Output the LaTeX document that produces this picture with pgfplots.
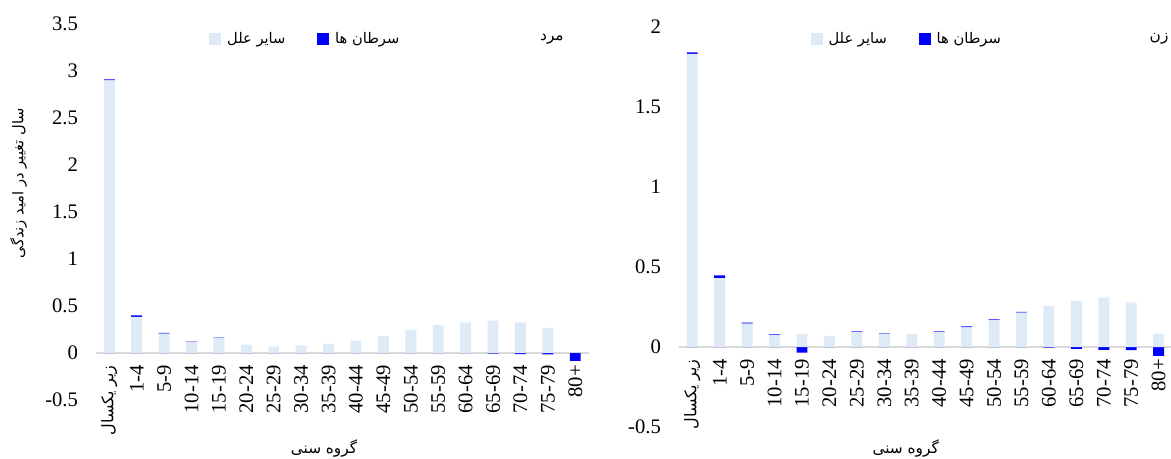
\documentclass[border=0pt]{standalone}
\usepackage{pgfplots}
\pgfplotsset{compat=1.18}
\usepackage{pgfplotstable}
\usepackage{fontspec}
\setmainfont{Liberation Serif}
\newfontfamily\fa[Script=Arabic]{DejaVu Sans}
\TeXXeTstate=1

\definecolor{otherc}{RGB}{222,235,247}
\definecolor{cancerc}{RGB}{0,0,255}
\definecolor{zeroline}{RGB}{217,217,217}

% change in life expectancy (years) by age group: other causes, cancers (+/-)
\pgfplotstableread{
idx other cpos cneg
0  2.900 0.012  0
1  0.385 0.015  0
2  0.205 0.010  0
3  0.115 0.006  0
4  0.158 0.006  0
5  0.089 0      0
6  0.070 0      0
7  0.081 0      0
8  0.098 0      0
9  0.131 0      0
10 0.180 0      0
11 0.248 0      0
12 0.296 0      0
13 0.327 0      0
14 0.344 0     -0.006
15 0.327 0     -0.012
16 0.267 0     -0.014
17 0     0     -0.083
}\male

\pgfplotstableread{
idx other cpos cneg
0  1.832 0.010  0
1  0.430 0.017  0
2  0.146 0.006  0
3  0.075 0.004  0
4  0.080 0     -0.035
5  0.070 0      0
6  0.094 0.004  0
7  0.083 0.003  0
8  0.080 0      0
9  0.094 0.004  0
10 0.122 0.007  0
11 0.168 0.005  0
12 0.215 0.004  0
13 0.256 0     -0.004
14 0.286 0     -0.012
15 0.310 0     -0.018
16 0.279 0     -0.020
17 0.080 0     -0.055
}\female

\pgfplotsset{
  agebars/.style={
    scale only axis,
    ybar stacked, bar width=0.4,
    xmin=-0.5, xmax=17.5,
    axis x line=middle, axis y line=left,
    x axis line style={-, draw=zeroline, line width=1.1pt},
    y axis line style={draw=none},
    hide obscured x ticks=false, hide obscured y ticks=false,
    major tick length=0pt,
    xtick={0,...,17},
    xticklabels={{\fontsize{12}{13}\fa\beginR زیر یکسال\endR},1-4,5-9,10-14,15-19,20-24,25-29,30-34,35-39,40-44,45-49,50-54,55-59,60-64,65-69,70-74,75-79,80+},
    xticklabel style={rotate=90, anchor=east, inner xsep=9pt,
      font=\fontsize{15.5}{16}\selectfont},
    yticklabel style={anchor=east, inner xsep=13pt,
      font=\fontsize{15.5}{16}\selectfont,
      /pgf/number format/fixed},
    /pgf/number format/assume math mode=true,
    xlabel={\fa\beginR گروه سنی\endR},
    xlabel style={font=\fontsize{11.5}{13}\selectfont, anchor=center},
    legend columns=2,
    legend style={draw=none, fill=none, anchor=center,
      font=\fontsize{11}{13}\selectfont,
      /tikz/every odd column/.append style={column sep=2.5pt},
      /tikz/every even column/.append style={column sep=22pt}},
  },
  sqlegend/.style={legend image code/.code={\fill[##1] (0pt,-4.4pt) rectangle (8.8pt,4.4pt);}},
}

\begin{document}
\begin{tikzpicture}
\path[use as bounding box] (0,0) rectangle (878.25pt,-343.5pt);

% men
\begin{axis}[agebars,
  at={(71.7pt,-300pt)}, anchor=south west,
  width=370pt, height=282pt,
  ymin=-0.5, ymax=3.5, ytick={-0.5,0,0.5,1,1.5,2,2.5,3,3.5},
  ylabel={\fa\beginR سال تغییر در امید زندگی\endR},
  ylabel style={at={(axis description cs:-0.156,0.577)}, anchor=center,
    font=\fontsize{11}{13}\selectfont},
  xlabel style={at={(axis description cs:0.463,-0.128)}},
  legend style={at={(0.426,0.960)}},
]
\addplot[fill=otherc, draw=none, sqlegend] table[x=idx, y=other] {\male};
\addlegendentry{\fa\beginR سایر علل\endR}
\addplot[fill=cancerc, draw=none, sqlegend] table[x=idx, y=cpos] {\male};
\addlegendentry{\fa\beginR سرطان ها\endR}
\addplot[fill=cancerc, draw=none, stack plots=false, forget plot] table[x=idx, y=cneg] {\male};
\node[font=\fontsize{11.5}{13}\selectfont\fa] at (rel axis cs:0.925,0.960) {مرد};
\end{axis}

% women
\begin{axis}[agebars,
  at={(508.9pt,-320.25pt)}, anchor=south west,
  width=370.4pt, height=300pt,
  ymin=-0.5, ymax=2, ytick={-0.5,0,0.5,1,1.5,2},
  xlabel style={at={(axis description cs:0.460,-0.0525)}},
  legend style={at={(0.463,0.970)}},
]
\addplot[fill=otherc, draw=none, sqlegend] table[x=idx, y=other] {\female};
\addlegendentry{\fa\beginR سایر علل\endR}
\addplot[fill=cancerc, draw=none, sqlegend] table[x=idx, y=cpos] {\female};
\addlegendentry{\fa\beginR سرطان ها\endR}
\addplot[fill=cancerc, draw=none, stack plots=false, forget plot] table[x=idx, y=cneg] {\female};
\node[font=\fontsize{11.5}{13}\selectfont\fa] at (rel axis cs:0.973,0.970) {زن};
\end{axis}
\end{tikzpicture}
\end{document}
